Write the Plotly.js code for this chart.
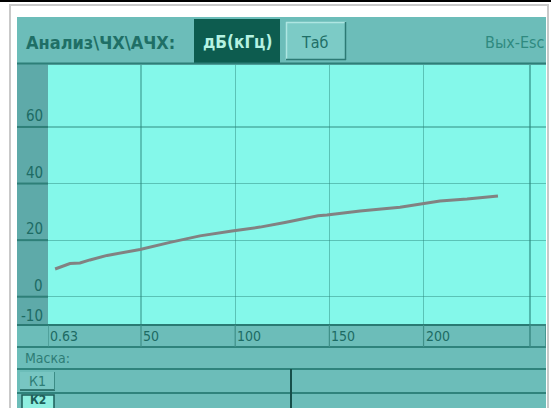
<!DOCTYPE html>
<html>
<head>
<meta charset="utf-8">
<script src="https://cdn.plot.ly/plotly-3.0.1.min.js"></script>
<style>html,body{margin:0;padding:0;background:#fff;}#chart{width:551px;height:408px;}</style>
</head>
<body>
<div id="chart"></div>
<script>
// ---- data ----
var freqKHz = [4.4, 12.3, 17.6, 22.9, 32.0, 49.5, 65.4, 81.3, 98.3, 113.2, 126.4, 144.0, 148.7, 166.3, 187.5, 198.1, 208.7, 223.1, 239.5];
var gainDb  = [9.8, 11.7, 11.9, 13.0, 14.6, 16.7, 19.2, 21.5, 23.2, 24.6, 26.2, 28.6, 28.9, 30.3, 31.6, 32.8, 33.8, 34.5, 35.6];
var xTickVals = [0.63, 50, 100, 150, 200];
var xTickText = ['0.63', '50', '100', '150', '200'];
var yTickVals = [60, 40, 20, 0, -10];
var yTickText = ['60', '40', '20', '0', '-10'];
var xEnd = 256.5;
var headerTitle = 'Анализ\\ЧХ\\АЧХ:';
var modeLabel = 'дБ(кГц)';
var tabLabel = 'Таб';
var exitLabel = 'Вых-Esc';
var maskLabel = 'Маска:';
var channelLabels = ['К1', 'К2'];

// ---- geometry helpers (pixel -> paper) ----
var W = 551, H = 408, L = 48, R = 5, T = 65, B = 83;
var PW = W - L - R, PH = H - T - B;
function xp(px) { return (px - L) / PW; }
function yp(py) { return (H - B - py) / PH; }

var narrow = 'DejaVu Sans Condensed, Liberation Sans Narrow, Arial Narrow, sans-serif';
var dark = '#1d6b64';
var lineDark = '#2f837c';

var shapes = [];
function rect(x0, y0, x1, y1, fill, lc, lw) {
  shapes.push({type: 'rect', xref: 'paper', yref: 'paper', layer: 'below',
    x0: xp(x0), x1: xp(x1), y0: yp(y1), y1: yp(y0),
    fillcolor: fill, line: {color: lc || 'rgba(0,0,0,0)', width: lw || 0}});
}
function hline(x0, x1, y, c, w, layer) {
  shapes.push({type: 'line', xref: 'paper', yref: 'paper', layer: layer || 'above',
    x0: xp(x0), x1: xp(x1), y0: yp(y), y1: yp(y), line: {color: c, width: w}});
}
function vline(x, y0, y1, c, w, layer) {
  shapes.push({type: 'line', xref: 'paper', yref: 'paper', layer: layer || 'above',
    x0: xp(x), x1: xp(x), y0: yp(y0), y1: yp(y1), line: {color: c, width: w}});
}

// outer frame
hline(0, 551, 1, '#000', 2);
rect(10, 5, 548, 420, 'rgba(0,0,0,0)', '#c9c9c9', 2);
// teal panel
rect(17, 17, 546, 420, '#6cbdb9');
// plot area (cyan)
shapes.push({type: 'rect', xref: 'paper', yref: 'paper', layer: 'below',
  x0: 0, x1: 1, y0: 0, y1: 1, fillcolor: '#84f8ea', line: {width: 0}});
// left strip
rect(17, 63, 48, 325, '#5eaaa9');
// header bottom line
hline(17, 546, 63.5, '#2d7f78', 2);
// row lines
hline(17, 546, 347, lineDark, 2);
hline(17, 546, 369, lineDark, 2);
hline(17, 546, 393, lineDark, 2);
// x axis line
hline(17, 546, 325, '#2a7a73', 2);
// channel divider
vline(291, 369, 408, '#174f4a', 2);
// mode box
rect(194, 19, 280, 63, '#0d5c4f');
// Tab button
rect(286, 22, 346, 60, '#7ccbc6');
hline(286, 346, 22.5, '#aee6e2', 1.5);
vline(286.5, 22, 60, '#aee6e2', 1.5);
hline(286, 346, 59.5, '#2c7a74', 1.5);
vline(345.5, 22, 60, '#2c7a74', 1.5);
// K1 / K2 buttons
rect(20, 372, 55, 390, '#78c6c2');
hline(20, 55, 390, '#1d5f59', 1.5);
vline(54.5, 372, 390, '#3c8c86', 1);
rect(22, 395, 54, 410, '#8eefe0', '#1d5f59', 1.5);
// y grid extensions into the strip
yTickVals.forEach(function (v) {
  if (v === -10) return;
  shapes.push({type: 'line', xref: 'paper', yref: 'y', layer: 'above',
    x0: xp(17), x1: 0, y0: v, y1: v, line: {color: '#2e7f78', width: 2}});
});
// x tick extensions into the label row
xTickVals.forEach(function (v) {
  shapes.push({type: 'line', xref: 'x', yref: 'paper', layer: 'above',
    x0: v, x1: v, y0: yp(347), y1: 0, line: {color: '#3f8f88', width: 1.2}});
});
// end marker
shapes.push({type: 'line', xref: 'x', yref: 'paper', layer: 'below',
  x0: xEnd, x1: xEnd, y0: 0, y1: 1, line: {color: 'rgba(40,130,120,0.55)', width: 2}});
shapes.push({type: 'rect', xref: 'x', yref: 'paper', layer: 'above',
  x0: xEnd, x1: 265, y0: yp(347), y1: 0, line: {color: '#3a8a84', width: 1.5}, fillcolor: 'rgba(0,0,0,0)'});

var ann = [];
function txt(s, px, py, anchor, size, color, fam, weight) {
  ann.push({text: s, xref: 'paper', yref: 'paper', x: xp(px), y: yp(py), xanchor: anchor, yanchor: 'middle',
    showarrow: false, font: {family: fam || narrow, size: size, color: color, weight: weight || 'normal'}});
}
txt(headerTitle, 24, 42, 'left', 18, '#1f6f66', narrow, 'bold');
txt(modeLabel, 237, 42, 'center', 17, '#b5f2e2', narrow, 'bold');
txt(tabLabel, 315, 42, 'center', 16, '#1f6f66', narrow, 'normal');
txt(exitLabel, 547, 42, 'right', 16, '#2f8a80', narrow, 'normal');
txt(maskLabel, 23, 358, 'left', 14, '#2e7c75', narrow);
txt(channelLabels[0], 37, 381, 'center', 14, '#2e7c75', narrow);
txt(channelLabels[1], 38, 400, 'center', 12, '#1d5f59', narrow, 'bold');

// tick labels
yTickVals.forEach(function (v, i) {
  ann.push({text: yTickText[i], xref: 'paper', yref: 'y', x: xp(45), y: v, xanchor: 'right',
    yanchor: 'bottom', yshift: v === -10 ? -2 : 0, showarrow: false,
    font: {family: narrow, size: 15, color: dark}});
});
xTickVals.forEach(function (v, i) {
  ann.push({text: xTickText[i], xref: 'x', yref: 'paper', x: v, y: yp(336), xanchor: 'left',
    yanchor: 'middle', xshift: 0, showarrow: false,
    font: {family: narrow, size: 14, color: dark}});
});

var trace = {x: freqKHz, y: gainDb, type: 'scatter', mode: 'lines',
  line: {color: '#828282', width: 3}, hoverinfo: 'skip'};

var layout = {
  width: W, height: H,
  margin: {l: L, r: R, t: T, b: B},
  paper_bgcolor: '#ffffff',
  plot_bgcolor: '#84f8ea',
  showlegend: false,
  xaxis: {range: [0.63, 265], tickvals: xTickVals, showticklabels: false, ticks: '',
    showgrid: true, gridcolor: 'rgba(40,130,120,0.45)', gridwidth: 1.2, zeroline: false, showline: false, fixedrange: true},
  yaxis: {range: [-10, 81.9], tickvals: yTickVals, showticklabels: false, ticks: '',
    showgrid: true, gridcolor: 'rgba(40,130,120,0.45)', gridwidth: 1.2, zeroline: false, showline: false, fixedrange: true},
  shapes: shapes,
  annotations: ann
};
Plotly.newPlot('chart', [trace], layout, {displayModeBar: false, staticPlot: true});
</script>
</body>
</html>
